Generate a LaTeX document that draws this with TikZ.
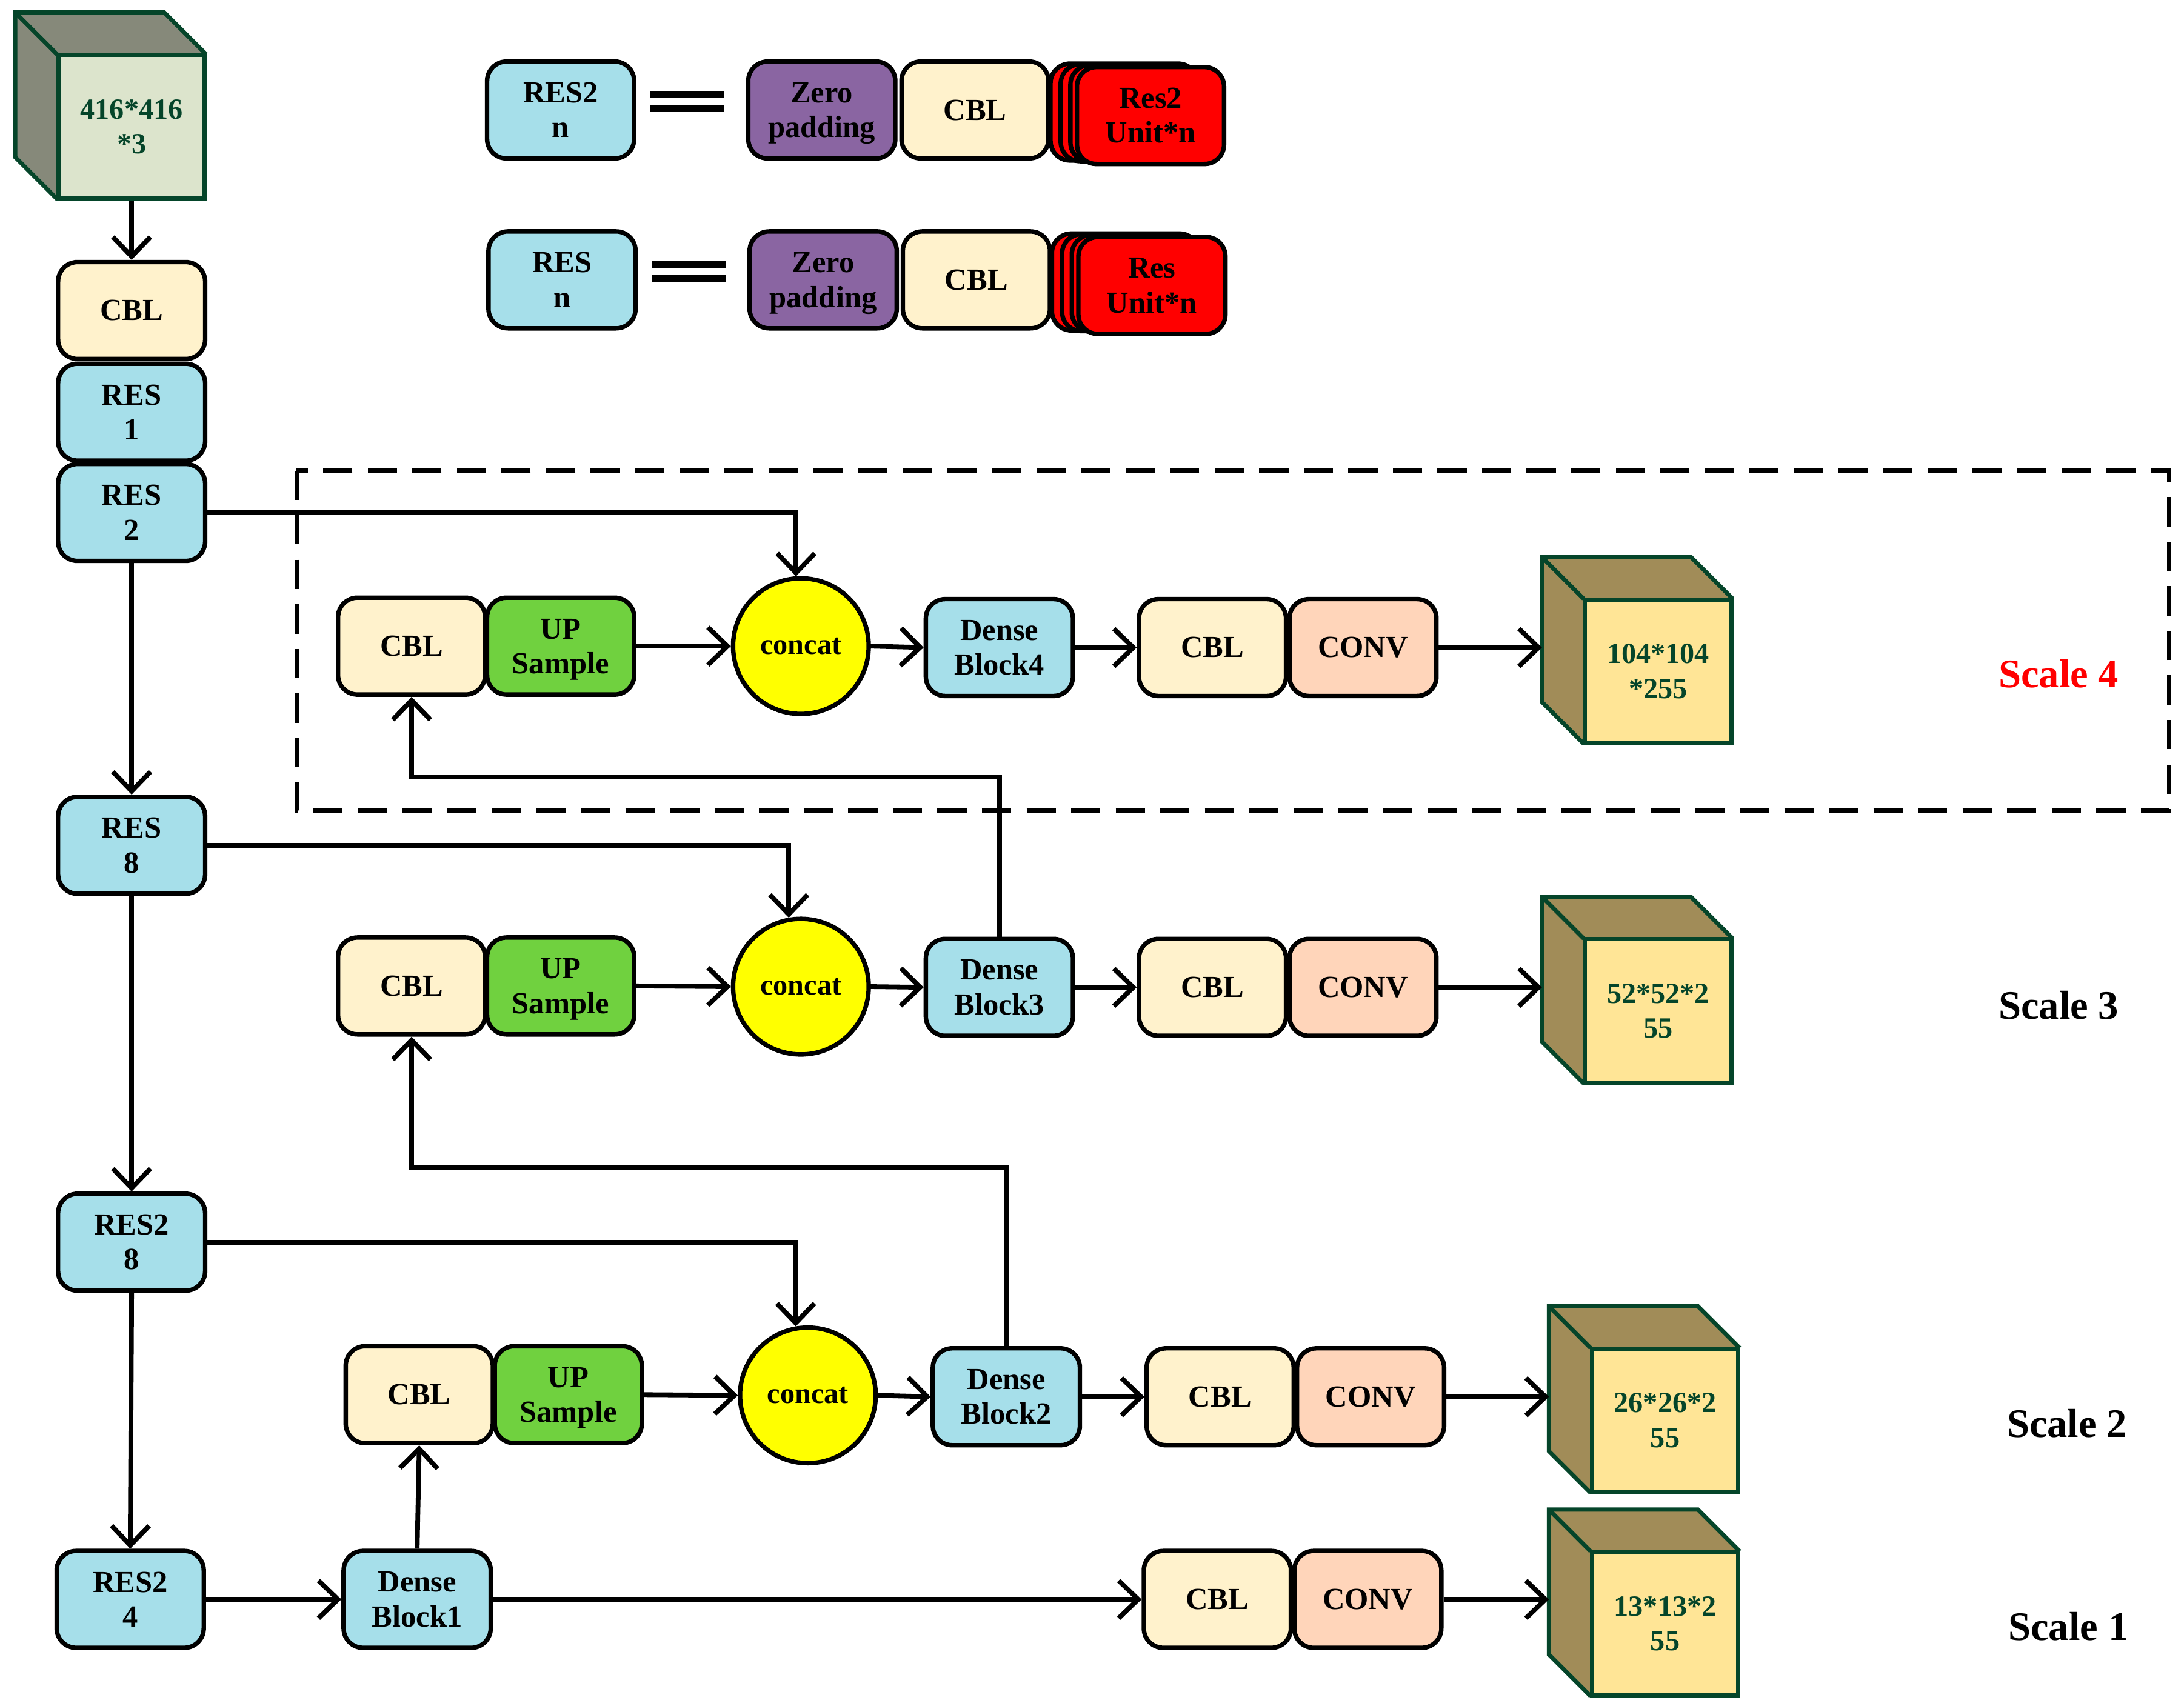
\documentclass[tikz,border=0pt]{standalone}
\usepackage{fontspec}
\setmainfont{Liberation Serif}
\usetikzlibrary{arrows.meta,calc}
\definecolor{cblc}{HTML}{FFF2CC}
\definecolor{resc}{HTML}{A6DFEA}
\definecolor{upc}{HTML}{70D13F}
\definecolor{convc}{HTML}{FFD5BA}
\definecolor{zeroc}{HTML}{8A65A2}
\definecolor{cubeline}{HTML}{05452A}
\definecolor{infront}{HTML}{DCE4CC}
\definecolor{inside}{HTML}{86897A}
\definecolor{outfront}{HTML}{FFE596}
\definecolor{outside}{HTML}{A18C58}
\definecolor{pureyellow}{HTML}{FFFF00}
\definecolor{purered}{HTML}{FF0000}
\newcommand{\nod}[1]{\raisebox{0pt}[\height][0pt]{#1}}
\tikzset{
  box/.style={draw=black,line width=1.6pt,rounded corners=7pt,minimum width=52.8pt,minimum height=34.8pt,inner sep=0pt,align=center,
     font=\fontsize{11}{12.5}\selectfont\bfseries},
  cbl/.style={box,fill=cblc},
  res/.style={box,fill=resc},
  up/.style={box,fill=upc},
  conv/.style={box,fill=convc},
  zero/.style={box,fill=zeroc},
  redbox/.style={box,fill=purered},
  concat/.style={circle,draw=black,line width=1.6pt,fill=pureyellow,minimum size=48.7pt,inner sep=0pt,font=\fontsize{10.5}{12}\selectfont\bfseries},
  arr/.style={line width=1.7pt,-{Straight Barb[length=7pt,width=13.5pt,line width=1.7pt]}},
  eq/.style={line width=2.6pt},
  dashbox/.style={line width=1.4pt,dash pattern=on 10.5pt off 5.5pt},
  scalelab/.style={font=\fontsize{14.5}{16}\selectfont\bfseries,inner sep=0pt},
  cubeedge/.style={draw=cubeline,line width=1.5pt,line join=miter},
  cubetext/.style={cubeedge,minimum width=52.5pt,minimum height=51.5pt,inner sep=0pt,align=center,text=cubeline,
     font=\fontsize{10.5}{12.5}\selectfont\bfseries},
}
% left, top, name, text, front, side
\newcommand{\mycube}[6]{%
  \fill[#6] (#1,#2) -- ({#1+30},{#2+30}) -- ({#1+30},{#2+134}) -- (#1,{#2+104}) -- cycle;
  \fill[#6] (#1,#2) -- ({#1+107},#2) -- ({#1+137},{#2+30}) -- ({#1+30},{#2+30}) -- cycle;
  \draw[cubeedge] ({#1+30},{#2+134}) -- (#1,{#2+104}) -- (#1,#2) -- ({#1+107},#2) -- ({#1+137},{#2+30});
  \draw[cubeedge] (#1,#2) -- ({#1+30},{#2+30});
  \node[cubetext,fill=#5] (#3) at ({#1+83.5},{#2+82}) {#4};
}
\begin{document}
\begin{tikzpicture}[x=0.5pt,y=-0.5pt]
\useasboundingbox (0,0) rectangle (1568,1225);

% dashed region
\draw[dashbox] (213,338) rectangle (1557,582);

% input cube
\mycube{11}{9}{incube}{416*416\\*3}{infront}{inside}

% left column
\node[cbl] (cbl0) at (94.5,223) {CBL};
\node[res] (res1) at (94.5,296) {RES\\1};
\node[res] (res2) at (94.5,368) {RES\\2};
\node[res] (res8) at (94.5,607) {RES\\8};
\node[res] (res28) at (94.5,892) {RES2\\8};
\node[res] (res24) at (93.5,1148.5) {RES2\\4};

% legend row 1
\node[res] (lres2) at (402.5,79) {RES2\\n};
\coordinate (eqa1) at (467,68); \coordinate (eqa2) at (520,68);
\coordinate (eqb1) at (467,78); \coordinate (eqb2) at (520,78);
\draw[eq] (eqa1) -- (eqa2); \draw[eq] (eqb1) -- (eqb2);
\node[zero] (lzero1) at (590,79) {Zero\\\nod{padding}};
\node[cbl] (lcbl1) at (700,79) {CBL};
\node[redbox] (ru1a) at (807,80.5) {};
\node[redbox,minimum width=49pt] (ru1b) at (810.5,81) {};
\node[redbox,minimum width=45.5pt] (ru1c) at (814,81.5) {};
\node[redbox] (ru1d) at (826,83) {Res2\\Unit*n};

% legend row 2
\node[res] (lres) at (403.5,201) {RES\\n};
\coordinate (eqc1) at (468,190); \coordinate (eqc2) at (521,190);
\coordinate (eqd1) at (468,200); \coordinate (eqd2) at (521,200);
\draw[eq] (eqc1) -- (eqc2); \draw[eq] (eqd1) -- (eqd2);
\node[zero] (lzero2) at (591,201) {Zero\\\nod{padding}};
\node[cbl] (lcbl2) at (701,201) {CBL};
\node[redbox] (ru2a) at (808,202.5) {};
\node[redbox,minimum width=49pt] (ru2b) at (811.5,203) {};
\node[redbox,minimum width=45.5pt] (ru2c) at (815,203.5) {};
\node[redbox] (ru2d) at (827,205) {Res\\Unit*n};

% scale 4 row
\node[cbl] (cbl4) at (295.5,464) {CBL};
\node[up] (up4) at (402.5,464) {UP\\\nod{Sample}};
\node[concat] (con4) at (575,464) {concat};
\node[res] (den4) at (717.5,465) {Dense\\Block4};
\node[cbl] (cblb4) at (870.5,465) {CBL};
\node[conv] (conv4) at (978.5,465) {CONV};
\mycube{1107}{400}{cube4}{104*104\\*255}{outfront}{outside}
\coordinate (cube4in) at (1107,465);

% scale 3 row
\node[cbl] (cbl3) at (295.5,708) {CBL};
\node[up] (up3) at (402.5,708) {UP\\\nod{Sample}};
\node[concat] (con3) at (575,708.5) {concat};
\node[res] (den3) at (717.5,709) {Dense\\Block3};
\node[cbl] (cblb3) at (870.5,709) {CBL};
\node[conv] (conv3) at (978.5,709) {CONV};
\mycube{1107}{644}{cube3}{52*52*2\\55}{outfront}{outside}
\coordinate (cube3in) at (1107,709);

% scale 2 row
\node[cbl] (cbl2) at (301,1001.5) {CBL};
\node[up] (up2) at (408,1001.5) {UP\\\nod{Sample}};
\node[concat] (con2) at (580,1002) {concat};
\node[res] (den2) at (722.5,1003) {Dense\\Block2};
\node[cbl] (cblb2) at (876,1003) {CBL};
\node[conv] (conv2) at (984,1003) {CONV};
\mycube{1112}{938}{cube2}{26*26*2\\55}{outfront}{outside}
\coordinate (cube2in) at (1112,1003);

% scale 1 row
\node[res] (den1) at (299.5,1148.5) {Dense\\Block1};
\node[cbl] (cblb1) at (874,1148.5) {CBL};
\node[conv] (conv1) at (982,1148.5) {CONV};
\mycube{1112}{1084}{cube1}{13*13*2\\55}{outfront}{outside}
\coordinate (cube1in) at (1112,1148.5);

% scale labels
\node[scalelab,text=purered] (s4) at (1478,484) {Scale 4};
\node[scalelab] (s3) at (1478,722) {Scale 3};
\node[scalelab] (s2) at (1484,1022) {Scale 2};
\node[scalelab] (s1) at (1485,1168) {Scale 1};

% connectors
\draw[arr] (incube.south) -- (cbl0.north);
\draw[arr] (res2.south) -- (res8.north);
\draw[arr] (res8.south) -- (res28.north);
\draw[arr] (res28.south) -- (res24.north);
\draw[arr] (res2.east) -| (con4.94);
\draw[arr] (res8.east) -| (con3.100);
\draw[arr] (res28.east) -| (con2.100);
\draw[arr] (res24.east) -- (den1.west);
\draw[arr] (den1.north) -- (cbl2.south);
\draw[arr] (den1.east) -- (cblb1.west);
\draw[arr] (conv1.east) -- (cube1in);

\draw[arr] (up4.east) -- (con4.west);
\draw[arr] (con4.east) -- (den4.west);
\draw[arr] (den4.east) -- (cblb4.west);
\draw[arr] (conv4.east) -- (cube4in);

\draw[arr] (up3.east) -- (con3.west);
\draw[arr] (con3.east) -- (den3.west);
\draw[arr] (den3.east) -- (cblb3.west);
\draw[arr] (conv3.east) -- (cube3in);

\draw[arr] (up2.east) -- (con2.west);
\draw[arr] (con2.east) -- (den2.west);
\draw[arr] (den2.east) -- (cblb2.west);
\draw[arr] (conv2.east) -- (cube2in);

\coordinate (k3) at (717.5,558);
\coordinate (k2) at (722.5,838);
\draw[arr] (den3.north) -- (k3) -| (cbl4.south);
\draw[arr] (den2.north) -- (k2) -| (cbl3.south);
\end{tikzpicture}
\end{document}
